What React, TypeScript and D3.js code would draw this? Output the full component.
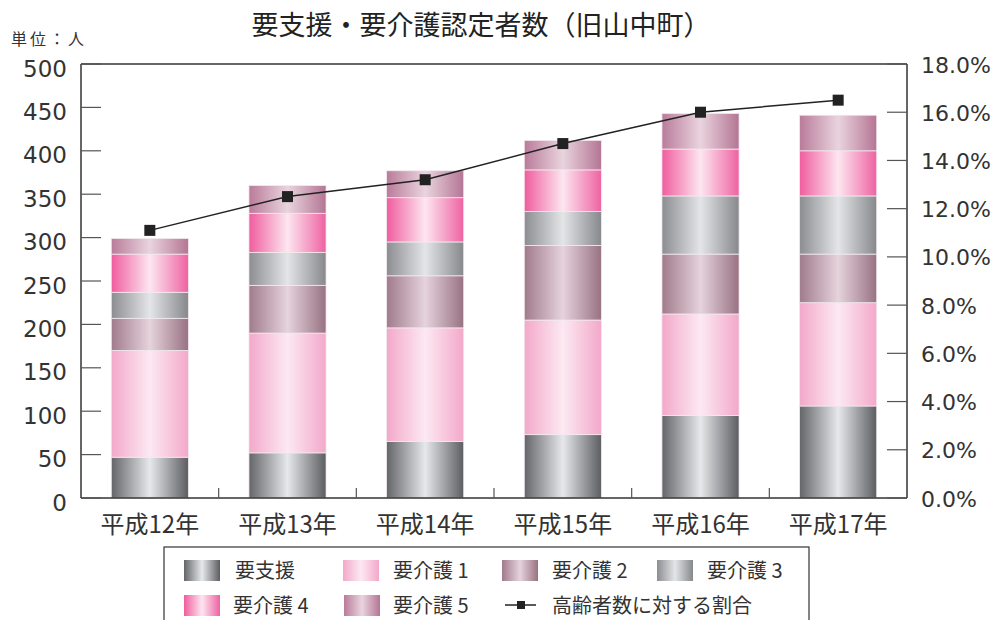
import React from "react";
import * as d3 from "d3";

const categories = ["平成12年", "平成13年", "平成14年", "平成15年", "平成16年", "平成17年"];
const seriesNames = ["要支援", "要介護 1", "要介護 2", "要介護 3", "要介護 4", "要介護 5"];
const youShien = [47, 52, 65, 73, 95, 106];
const kaigo1 = [123, 138, 131, 132, 117, 119];
const kaigo2 = [37, 55, 60, 86, 69, 56];
const kaigo3 = [30, 38, 39, 39, 67, 67];
const kaigo4 = [44, 45, 51, 48, 54, 52];
const kaigo5 = [18, 32, 31, 34, 41, 41];
const ratio = [11.1, 12.5, 13.2, 14.7, 16.0, 16.5];
const leftTicks = [0, 50, 100, 150, 200, 250, 300, 350, 400, 450, 500];
const rightTicks = [0, 2, 4, 6, 8, 10, 12, 14, 16, 18];
const lineName = "高齢者数に対する割合";
const title = "要支援・要介護認定者数（旧山中町）";
const unitLabel = "単位：人";

const gradients = [
  { edgeL: "#646569", edgeR: "#5c5d61", mid: "#e6e8ea" },
  { edgeL: "#f3a8ca", edgeR: "#f3a8ca", mid: "#fce9f2" },
  { edgeL: "#a07b8b", edgeR: "#987282", mid: "#e6d3dc" },
  { edgeL: "#8b8d91", edgeR: "#86888c", mid: "#e3e5e7" },
  { edgeL: "#f05c9e", edgeR: "#ee62a2", mid: "#fde6f0" },
  { edgeL: "#b97b9a", edgeR: "#b47594", mid: "#e9d4de" },
];

const FONT = "'Noto Sans CJK JP', 'Noto Sans', sans-serif";
const NUMFONT = "'DejaVu Sans', 'Liberation Sans', sans-serif";

export default function App() {
  const W = 999, H = 620;
  const left = 81, right = 907, top = 64, bottom = 498;
  const x = d3.scaleBand<string>().domain(categories).range([left, right]).paddingInner(0.44).paddingOuter(0.22);
  const y = d3.scaleLinear().domain([0, 500]).range([bottom, top]);
  const y2 = d3.scaleLinear().domain([0, 18]).range([bottom, top]);
  const seriesData = [youShien, kaigo1, kaigo2, kaigo3, kaigo4, kaigo5];
  const rows = categories.map((c, i) => {
    const r: any = { cat: c };
    seriesNames.forEach((s, j) => (r[s] = seriesData[j][i]));
    return r;
  });
  const stacked = d3.stack<any>().keys(seriesNames)(rows);
  const bandStep = (right - left) / categories.length;
  const linePath = d3
    .line<number>()
    .x((_, i) => (x(categories[i]) as number) + x.bandwidth() / 2)
    .y((v) => y2(v))(ratio);

  const legendItems = [
    { i: 0, sx: 184, sy: 560, tx: 235 },
    { i: 1, sx: 343, sy: 560, tx: 393 },
    { i: 2, sx: 502, sy: 560, tx: 552 },
    { i: 3, sx: 657, sy: 560, tx: 707 },
    { i: 4, sx: 184, sy: 595, tx: 233 },
    { i: 5, sx: 344, sy: 595, tx: 393 },
  ];

  return (
    <svg width={W} height={H} style={{ position: "absolute", left: 0, top: 0, background: "#fff" }}>
      <defs>
        {gradients.map((g, i) => (
          <linearGradient key={i} id={`g${i}`} x1="0" x2="1" y1="0" y2="0">
            <stop offset="0" stopColor={g.edgeL} />
            <stop offset="0.5" stopColor={g.mid} />
            <stop offset="1" stopColor={g.edgeR} />
          </linearGradient>
        ))}
      </defs>
      <text x={481} y={35} textAnchor="middle" fontFamily={FONT} fontSize={27} fill="#222">
        {title}
      </text>
      <text x={11} y={45} fontFamily={FONT} fontSize={16} fill="#333" textLength={73} lengthAdjust="spacing">
        {unitLabel}
      </text>

      {/* bars */}
      {stacked.map((layer, j) =>
        layer.map((d, i) => (
          <rect
            key={`${j}-${i}`}
            x={x(categories[i])}
            width={x.bandwidth()}
            y={y(d[1])}
            height={y(d[0]) - y(d[1])}
            fill={`url(#g${j})`}
            stroke="#f3e9ee"
            strokeWidth={0.8}
          />
        ))
      )}

      {/* frame */}
      <line x1={left} x2={right} y1={top} y2={top} stroke="#333" strokeWidth={1.5} />
      <line x1={left} x2={left} y1={top} y2={bottom} stroke="#333" strokeWidth={1.5} />
      <line x1={right} x2={right} y1={top} y2={bottom} stroke="#333" strokeWidth={1.5} />
      <line x1={left} x2={right} y1={bottom} y2={bottom} stroke="#333" strokeWidth={1.5} />

      {leftTicks.map((t) => (
        <g key={`l${t}`}>
          <line x1={left} x2={left + 20} y1={y(t)} y2={y(t)} stroke="#555" strokeWidth={1.2} />
          <text x={67} y={y(t) + 12.5} textAnchor="end" fontFamily={NUMFONT} fontSize={23} fill="#333">
            {t}
          </text>
        </g>
      ))}
      {rightTicks.map((t) => (
        <g key={`r${t}`}>
          <line x1={right - 20} x2={right} y1={y2(t)} y2={y2(t)} stroke="#555" strokeWidth={1.2} />
          <text x={921} y={y2(t) + 8.5} textAnchor="start" fontFamily={NUMFONT} fontSize={22} fill="#333">
            {t.toFixed(1) + "%"}
          </text>
        </g>
      ))}
      {categories.slice(1).map((c, i) => (
        <line key={`xt${i}`} x1={left + bandStep * (i + 1)} x2={left + bandStep * (i + 1)} y1={bottom - 10} y2={bottom} stroke="#555" strokeWidth={1.2} />
      ))}
      {categories.map((c) => (
        <text key={c} x={(x(c) as number) + x.bandwidth() / 2} y={533} textAnchor="middle" fontFamily={FONT} fontSize={24} fill="#333">
          {c}
        </text>
      ))}

      {/* line */}
      <path d={linePath || ""} fill="none" stroke="#222" strokeWidth={1.5} />
      {ratio.map((v, i) => (
        <rect key={`m${i}`} x={(x(categories[i]) as number) + x.bandwidth() / 2 - 5.5} y={y2(v) - 5.5} width={11} height={11} fill="#222" />
      ))}

      {/* legend */}
      <rect x={164} y={547} width={645} height={90} fill="none" stroke="#333" strokeWidth={1.2} />
      {legendItems.map((it) => (
        <g key={`lg${it.i}`}>
          <rect x={it.sx} y={it.sy} width={36} height={21} fill={`url(#g${it.i})`} />
          <text x={it.tx} y={it.sy + 18} fontFamily={FONT} fontSize={20} fill="#333">
            {seriesNames[it.i]}
          </text>
        </g>
      ))}
      <line x1={505} x2={536} y1={605} y2={605} stroke="#222" strokeWidth={1.5} />
      <rect x={517} y={601} width={8} height={8} fill="#222" />
      <text x={552} y={613} fontFamily={FONT} fontSize={20} fill="#333">
        {lineName}
      </text>
    </svg>
  );
}
